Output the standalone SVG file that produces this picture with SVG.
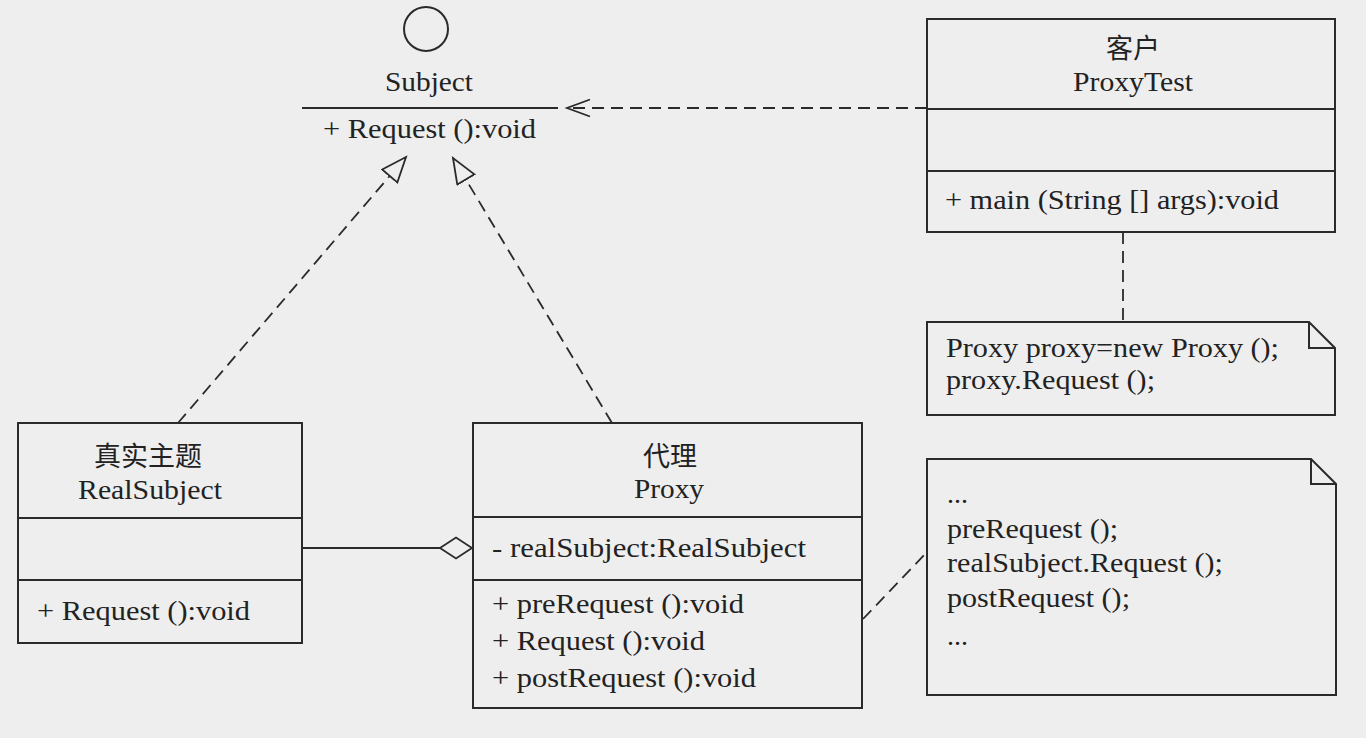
<svg xmlns="http://www.w3.org/2000/svg" width="1366" height="738" viewBox="0 0 1366 738">
<style>
  .box { fill: none; stroke: #2a2a2a; stroke-width: 2; }
  .ln { fill: none; stroke: #2a2a2a; stroke-width: 2; }
  .dash { fill: none; stroke: #2a2a2a; stroke-width: 1.8; stroke-dasharray: 12 7; }
  text { font-family: "Liberation Serif", "Noto Sans CJK SC", serif; font-size: 28px; fill: #222; }
  .c { text-anchor: middle; }
  .cjk { font-size: 27px; }
</style>
<defs>
  <marker id="realize" markerWidth="30" markerHeight="26" refX="26" refY="11" orient="auto" markerUnits="userSpaceOnUse">
    <path d="M1,1 L26,11 L1,21 Z" fill="#eeeeee" stroke="#2a2a2a" stroke-width="1.8" stroke-dasharray="none"/>
  </marker>
  <marker id="dep" markerWidth="30" markerHeight="22" refX="25" refY="10" orient="auto" markerUnits="userSpaceOnUse">
    <path d="M2,1.5 L25,10 L2,18.5" fill="none" stroke="#2a2a2a" stroke-width="1.8" stroke-dasharray="none"/>
  </marker>
</defs>
<rect x="0" y="0" width="1366" height="738" fill="#eeeeee"/>

<g id="connectors">
  <path class="dash" d="M178,423 L406,157" marker-end="url(#realize)"/>
  <path class="dash" d="M612,423 L453,158" marker-end="url(#realize)"/>
  <path class="dash" d="M927,108 L567,108" marker-end="url(#dep)"/>
  <path class="ln" d="M302,548 L440,548"/>
  <path d="M440,548 L456,537.5 L472,548 L456,558.5 Z" fill="#eeeeee" stroke="#2a2a2a" stroke-width="1.8"/>
  <path class="dash" d="M1123,232 L1123,322"/>
  <path class="dash" d="M863,619 L927,552"/>
</g>

<g id="subject">
  <circle cx="426" cy="29" r="22" fill="none" stroke="#2a2a2a" stroke-width="2"/>
  <text x="429" y="91" class="c" textLength="88" lengthAdjust="spacingAndGlyphs">Subject</text>
  <path class="ln" d="M302,108 L558,108"/>
  <text x="323" y="138" textLength="213" lengthAdjust="spacingAndGlyphs">+ Request ():void</text>
</g>

<g id="proxytest">
  <rect class="box" x="927" y="19" width="408" height="213"/>
  <path class="ln" d="M927,109 H1335 M927,171 H1335"/>
  <text x="1133" y="58" class="c cjk">客户</text>
  <text x="1133" y="91" class="c" textLength="120" lengthAdjust="spacingAndGlyphs">ProxyTest</text>
  <text x="945" y="209" textLength="334" lengthAdjust="spacingAndGlyphs">+ main (String [] args):void</text>
</g>

<g id="note-client">
  <path class="box" d="M927,322 H1309 L1335,348 V415 H927 Z"/>
  <path class="ln" d="M1309,322 V348 H1335"/>
  <text x="946" y="357" textLength="333" lengthAdjust="spacingAndGlyphs">Proxy proxy=new Proxy ();</text>
  <text x="946" y="389" textLength="209" lengthAdjust="spacingAndGlyphs">proxy.Request ();</text>
</g>

<g id="realsubject">
  <rect class="box" x="18" y="423" width="284" height="220"/>
  <path class="ln" d="M18,518 H302 M18,580 H302"/>
  <text x="148" y="466" class="c cjk">真实主题</text>
  <text x="150" y="499" class="c" textLength="144" lengthAdjust="spacingAndGlyphs">RealSubject</text>
  <text x="37" y="620" textLength="213" lengthAdjust="spacingAndGlyphs">+ Request ():void</text>
</g>

<g id="proxy">
  <rect class="box" x="473" y="423" width="389" height="285"/>
  <path class="ln" d="M473,517 H862 M473,580 H862"/>
  <text x="670" y="466" class="c cjk">代理</text>
  <text x="669" y="498" class="c" textLength="70" lengthAdjust="spacingAndGlyphs">Proxy</text>
  <text x="492" y="557" textLength="314" lengthAdjust="spacingAndGlyphs">- realSubject:RealSubject</text>
  <text x="492" y="613" textLength="252" lengthAdjust="spacingAndGlyphs">+ preRequest ():void</text>
  <text x="492" y="650" textLength="213" lengthAdjust="spacingAndGlyphs">+ Request ():void</text>
  <text x="492" y="687" textLength="264" lengthAdjust="spacingAndGlyphs">+ postRequest ():void</text>
</g>

<g id="note-proxy">
  <path class="box" d="M927,459 H1311 L1336,484 V695 H927 Z"/>
  <path class="ln" d="M1311,459 V484 H1336"/>
  <text x="947" y="503" textLength="21" lengthAdjust="spacingAndGlyphs">...</text>
  <text x="947" y="538" textLength="171" lengthAdjust="spacingAndGlyphs">preRequest ();</text>
  <text x="947" y="572" textLength="276" lengthAdjust="spacingAndGlyphs">realSubject.Request ();</text>
  <text x="947" y="607" textLength="183" lengthAdjust="spacingAndGlyphs">postRequest ();</text>
  <text x="947" y="645" textLength="21" lengthAdjust="spacingAndGlyphs">...</text>
</g>
</svg>
